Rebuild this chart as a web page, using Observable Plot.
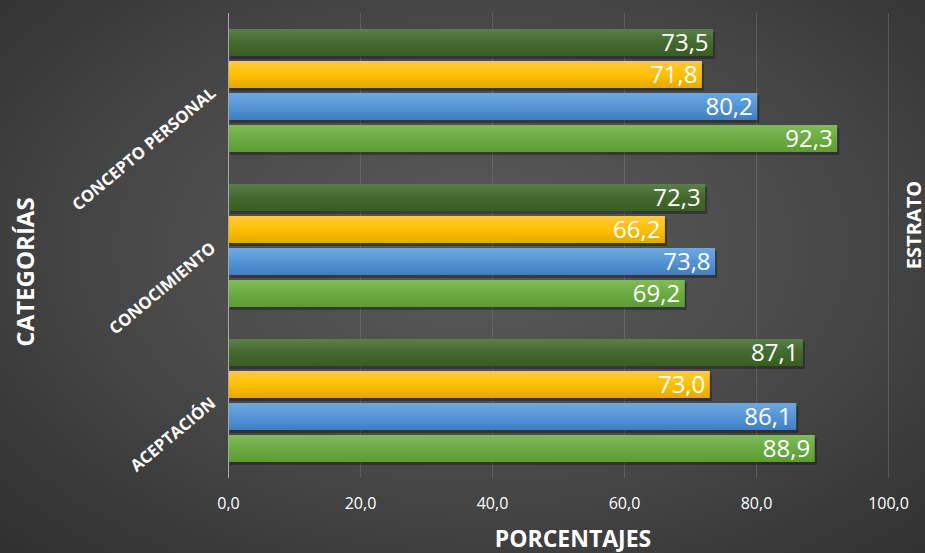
<!DOCTYPE html>
<html>
<head>
<meta charset="utf-8">
<script src="https://cdn.jsdelivr.net/npm/d3@7"></script>
<script src="https://cdn.jsdelivr.net/npm/@observablehq/plot@0.6"></script>
<style>
html,body{margin:0;padding:0;}
body{width:925px;height:553px;overflow:hidden;
  background:radial-gradient(ellipse 75% 80% at 52% 45%, #595959 0%, #4b4b4b 45%, #2e2e2e 100%);}
#chart{position:relative;width:925px;height:553px;}
</style>
</head>
<body>
<div id="chart"></div>
<script>
// Categories (top to bottom)
const categories = ["CONCEPTO PERSONAL", "CONOCIMIENTO", "ACEPTACIÓN"];
// Series (top to bottom inside each group)
const seriesNames = ["Estrato 4", "Estrato 3", "Estrato 2", "Estrato 1"];
// Values per series, in category order
const estrato4 = [73.5, 72.3, 87.1];
const estrato3 = [71.8, 66.2, 73.0];
const estrato2 = [80.2, 73.8, 86.1];
const estrato1 = [92.3, 69.2, 88.9];
const xTicks = [0, 20, 40, 60, 80, 100];

const seriesValues = [estrato4, estrato3, estrato2, estrato1];
const gradIds = ["g4", "g3", "g2", "g1"];

const data = [];
seriesNames.forEach((s, si) => {
  categories.forEach((c, ci) => {
    data.push({category: c, series: s, value: seriesValues[si][ci], fill: `url(#${gradIds[si]})`});
  });
});

const fmt = d => d.toFixed(1).replace(".", ",");

const chart = Plot.plot({
  width: 925,
  height: 553,
  marginTop: 13,
  marginBottom: 75,
  marginLeft: 228,
  marginRight: 37,
  style: {background: "transparent", color: "white", fontFamily: "Open Sans"},
  x: {domain: [0, 100], axis: null},
  y: {domain: seriesNames, paddingInner: 0.17, paddingOuter: 0.47, axis: null},
  fy: {domain: categories, padding: 0, axis: null},
  color: {type: "identity"},
  marks: [
    Plot.gridX(xTicks, {stroke: "#8a8a8a", strokeOpacity: 0.35, strokeWidth: 1}),
    Plot.barX(data, {x: "value", y: "series", fy: "category", fill: "#000", fillOpacity: 0.3, dx: 2, dy: 3}),
    Plot.barX(data, {x: "value", y: "series", fy: "category", fill: "fill"}),
    Plot.ruleX([0], {stroke: "#a8a8a8", strokeWidth: 1}),
    Plot.text(data, {x: "value", y: "series", fy: "category", text: d => fmt(d.value),
      textAnchor: "end", dx: -5, fill: "white", fontSize: 24, fontFamily: "Open Sans"}),
    Plot.axisX(xTicks, {tickSize: 0, tickPadding: 19, fontSize: 16, fill: "white",
      tickFormat: fmt, label: null, fontFamily: "Open Sans"}),
    Plot.axisFy({anchor: "left", tickSize: 0, tickPadding: 15, tickRotate: -40, fontSize: 16.5,
      fontWeight: "bold", fontFamily: "Open Sans", fill: "white", label: null})
  ]
});

document.getElementById("chart").appendChild(chart);

const svg = d3.select(chart);
const defs = svg.insert("defs", ":first-child");
const grads = [
  ["g4", ["#5b7f4b", "#44692f", "#385e22"]],
  ["g3", ["#ffcb40", "#ffc000", "#e2a900"]],
  ["g2", ["#6ea8e1", "#5695d5", "#3f7fc1"]],
  ["g1", ["#80bb5a", "#6cab42", "#5c9c32"]]
];
grads.forEach(([id, cols]) => {
  const g = defs.append("linearGradient").attr("id", id)
    .attr("x1", 0).attr("y1", 0).attr("x2", 0).attr("y2", 1);
  g.append("stop").attr("offset", "0%").attr("stop-color", cols[0]);
  g.append("stop").attr("offset", "50%").attr("stop-color", cols[1]);
  g.append("stop").attr("offset", "100%").attr("stop-color", cols[2]);
});

function title(txt, x, y, rot, size) {
  svg.append("text")
    .attr("transform", `translate(${x},${y}) rotate(${rot})`)
    .attr("text-anchor", "middle")
    .attr("dominant-baseline", rot ? "central" : "auto")
    .attr("fill", "white")
    .attr("font-family", "Open Sans")
    .attr("font-weight", "bold")
    .attr("font-size", size)
    .text(txt);
}
title("CATEGORÍAS", 24, 272, -90, 24);
title("ESTRATO", 913, 225, -90, 20);
title("PORCENTAJES", 573, 547, 0, 23);
</script>
</body>
</html>
